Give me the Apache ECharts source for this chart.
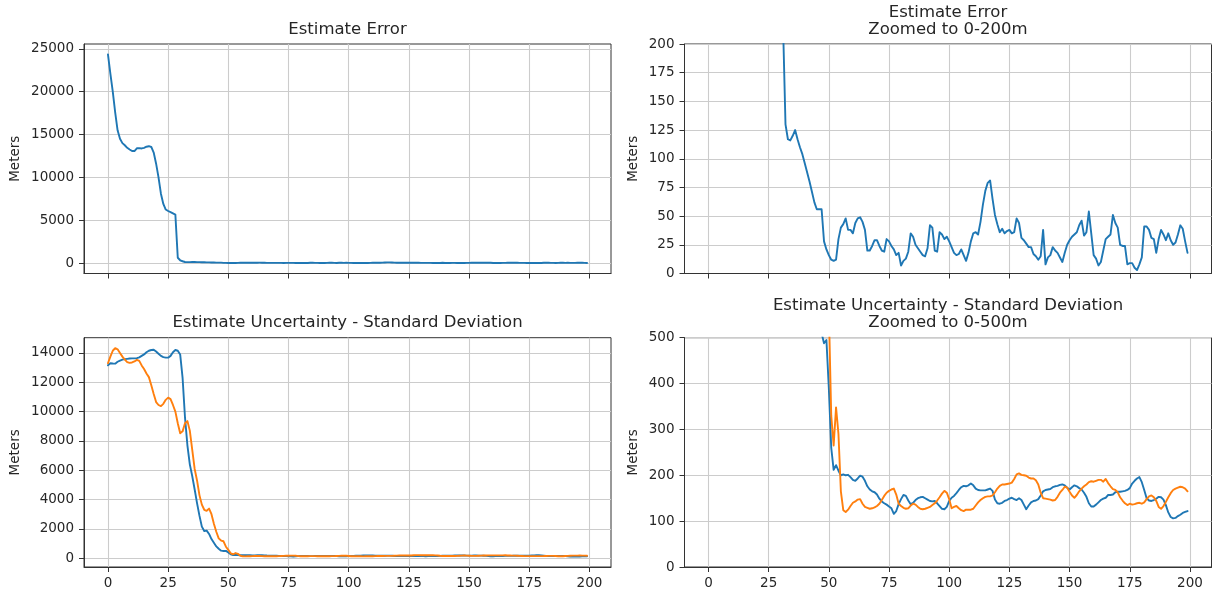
<!DOCTYPE html>
<html>
<head>
<meta charset="utf-8">
<script src="https://cdn.jsdelivr.net/npm/echarts@6/dist/echarts.min.js"></script>
<style>
  html, body { margin: 0; padding: 0; background: #ffffff; }
  #chart { width: 1215px; height: 595px; }
</style>
</head>
<body>
<div id="chart"></div>
<script>
// Position estimate error per step (meters)
const errMeters = [
  24350, 22100, 20000, 17600, 15500, 14500, 14000, 13750, 13450, 13250,
  13080, 13080, 13400, 13420, 13380, 13450, 13580, 13640, 13550, 12900,
  11600, 10000, 8100, 6900, 6250, 6080, 5950, 5800, 5650, 620,
  330, 215, 130, 117, 116, 120, 125, 117, 110, 104,
  96, 88, 80, 71, 62, 56, 56, 56, 28, 21,
  16, 12, 11, 12, 30, 40, 43, 48, 38, 38,
  35, 44, 48, 49, 45, 38, 20, 20, 24, 29,
  29, 24, 20, 19, 30, 28, 24, 21, 16, 18,
  7, 11, 13, 19, 35, 32, 25, 22, 19, 16,
  15, 22, 42, 40, 20, 19, 36, 34, 30, 32,
  28, 23, 18, 16, 17, 21, 16, 11, 18, 28,
  35, 36, 34, 45, 60, 72, 79, 81, 65, 51,
  43, 36, 39, 35, 37, 38, 35, 36, 48, 44,
  31, 29, 26, 23, 23, 17, 15, 12, 15, 38,
  8, 14, 16, 23, 20, 18, 14, 10, 18, 25,
  29, 32, 34, 36, 42, 46, 33, 36, 54, 35,
  16, 13, 7, 10, 20, 30, 32, 34, 51, 44,
  40, 25, 24, 24, 8, 9, 9, 5, 3, 8,
  14, 41, 41, 38, 31, 30, 18, 30, 38, 34,
  29, 35, 29, 25, 27, 34, 42, 39, 28, 18
];

// Standard deviation of the estimate, first component (meters)
const stdDevA = [
  13160, 13300, 13280, 13270, 13400, 13480, 13540, 13580, 13600, 13620,
  13630, 13630, 13650, 13700, 13800, 13900, 14050, 14150, 14200, 14220,
  14100, 13950, 13800, 13720, 13680, 13680, 13800, 14050, 14200, 14150,
  13900, 12300, 9600, 7700, 6400, 5600, 4700, 3750, 2900, 2150,
  1850, 1880, 1650, 1300, 1050, 800, 640, 510, 488, 495,
  390, 260, 212, 222, 210, 200, 202, 200, 201, 196,
  190, 188, 193, 199, 197, 188, 176, 169, 165, 163,
  158, 149, 143, 139, 136, 132, 128, 116, 122, 137,
  148, 157, 155, 145, 137, 140, 146, 150, 152, 153,
  150, 147, 144, 143, 144, 139, 133, 127, 126, 131,
  144, 151, 155, 161, 168, 174, 177, 176, 178, 182,
  178, 171, 168, 167, 167, 167, 169, 171, 166, 147,
  139, 138, 140, 144, 146, 149, 151, 148, 146, 150,
  146, 136, 126, 134, 141, 144, 145, 148, 156, 165,
  168, 169, 170, 174, 176, 177, 179, 180, 178, 173,
  169, 174, 178, 176, 172, 169, 162, 153, 139, 132,
  132, 136, 141, 146, 149, 151, 157, 157, 158, 163,
  164, 164, 165, 166, 168, 172, 182, 188, 193, 196,
  185, 168, 150, 145, 144, 146, 149, 153, 152, 147,
  135, 119, 109, 106, 107, 111, 114, 118, 120, 122
];

// Standard deviation of the estimate, second component (meters)
const stdDevB = [
  13300, 13750, 14150, 14330, 14250, 14000, 13750, 13550, 13380, 13320,
  13350, 13420, 13530, 13460, 13150, 12900, 12600, 12350, 11800, 11200,
  10650, 10450, 10370, 10530, 10800, 10950, 10850, 10450, 10000, 9200,
  8520, 8650, 9200, 9350, 8700, 7400, 6100, 5300, 4300, 3650,
  3300, 3230, 3380, 3000, 2350, 1800, 1350, 1200, 1150, 780,
  560, 330, 265, 348, 290, 165, 124, 120, 125, 133,
  140, 143, 147, 148, 138, 131, 129, 127, 128, 130,
  133, 138, 146, 155, 162, 166, 169, 171, 158, 138,
  133, 129, 127, 128, 134, 138, 136, 131, 127, 126,
  127, 129, 131, 135, 139, 145, 152, 160, 166, 162,
  148, 128, 131, 133, 128, 124, 122, 125, 125, 125,
  127, 134, 141, 146, 150, 153, 154, 154, 156, 163,
  171, 177, 180, 180, 181, 182, 184, 192, 202, 204,
  201, 200, 199, 195, 193, 193, 189, 180, 162, 150,
  149, 148, 147, 145, 146, 153, 162, 168, 175, 173,
  164, 156, 151, 157, 165, 171, 176, 180, 185, 187,
  186, 188, 190, 190, 186, 192, 183, 176, 170, 168,
  163, 152, 145, 139, 135, 138, 136, 137, 139, 140,
  138, 141, 148, 154, 156, 152, 144, 131, 127, 133,
  142, 152, 161, 168, 171, 173, 175, 174, 171, 165
];

// Tick values
const stepTicks = [0, 25, 50, 75, 100, 125, 150, 175, 200];
const errTicks = [0, 5000, 10000, 15000, 20000, 25000];
const errZoomTicks = [0, 25, 50, 75, 100, 125, 150, 175, 200];
const stdTicks = [0, 2000, 4000, 6000, 8000, 10000, 12000, 14000];
const stdZoomTicks = [0, 100, 200, 300, 400, 500];

const BLUE = '#1f77b4';
const ORANGE = '#ff7f0e';
const INK = '#262626';
const FONT = 'DejaVu Sans';

function toPoints(arr) { return arr.map((v, i) => [i, v]); }

// Auto limits with 5% padding on each side
function padded(lo, hi) {
  const r = hi - lo;
  return [lo - 0.05 * r, hi + 0.05 * r];
}

const n = errMeters.length;
const xLim = padded(0, n - 1);
const errLim = padded(Math.min(...errMeters), Math.max(...errMeters));
const stdAll = stdDevA.concat(stdDevB);
const stdLim = padded(Math.min(...stdAll), Math.max(...stdAll));

const grids = [
  { left: 84, top: 44, width: 527, height: 229.5 },
  { left: 684.5, top: 44, width: 527, height: 229.5 },
  { left: 84, top: 337.7, width: 527, height: 229.3 },
  { left: 684.5, top: 337.7, width: 527, height: 229.3 }
].map(g => Object.assign(g, {
  show: true,
  borderColor: '#333',
  borderWidth: 1,
  backgroundColor: 'transparent',
  containLabel: false,
  outerBoundsMode: 'none'
}));

function xAxisFor(idx, showLabels) {
  return {
    type: 'value',
    gridIndex: idx,
    min: xLim[0],
    max: xLim[1],
    axisLine: { show: true, onZero: false, lineStyle: { color: '#333', width: 1 } },
    axisTick: { show: true, customValues: stepTicks, length: 5, lineStyle: { color: '#333', width: 1 } },
    axisLabel: {
      show: showLabels, customValues: stepTicks, margin: 9,
      fontSize: 13.5, fontFamily: FONT, color: INK,
      formatter: v => String(v)
    },
    splitLine: { show: true, lineStyle: { color: '#cccccc', width: 1.1 } }
  };
}

function yAxisFor(idx, lim, ticks, gap) {
  return {
    type: 'value',
    gridIndex: idx,
    min: lim[0],
    max: lim[1],
    name: 'Meters',
    nameLocation: 'middle',
    nameRotate: 90,
    nameGap: gap,
    nameTextStyle: { fontSize: 13.5, fontFamily: FONT, color: INK },
    axisLine: { show: true, onZero: false, lineStyle: { color: '#333', width: 1 } },
    axisTick: { show: true, customValues: ticks, length: 5, lineStyle: { color: '#333', width: 1 } },
    axisLabel: {
      show: true, customValues: ticks, margin: 10,
      fontSize: 13.5, fontFamily: FONT, color: INK,
      formatter: v => String(v)
    },
    splitLine: { show: true, lineStyle: { color: '#cccccc', width: 1.1 } }
  };
}

function lineSeries(data, color, ix) {
  return {
    type: 'line',
    data: toPoints(data),
    xAxisIndex: ix,
    yAxisIndex: ix,
    symbol: 'none',
    showSymbol: false,
    clip: true,
    lineStyle: { color: color, width: 1.9, join: 'round', cap: 'round' },
    itemStyle: { color: color },
    emphasis: { disabled: true },
    animation: false
  };
}

function titleText(text, cx, cy) {
  return {
    type: 'text',
    x: cx,
    y: cy,
    style: {
      text: text,
      align: 'center',
      verticalAlign: 'middle',
      font: '16.5px "DejaVu Sans"',
      fill: INK,
      lineHeight: 16.8
    }
  };
}

const chart = echarts.init(document.getElementById('chart'), null, { renderer: 'canvas' });

chart.setOption({
  animation: false,
  backgroundColor: '#ffffff',
  grid: grids,
  xAxis: [
    xAxisFor(0, false),
    xAxisFor(1, false),
    xAxisFor(2, true),
    xAxisFor(3, true)
  ],
  yAxis: [
    yAxisFor(0, errLim, errTicks, 62),
    yAxisFor(1, [0, 200], errZoomTicks, 44),
    yAxisFor(2, stdLim, stdTicks, 62),
    yAxisFor(3, [0, 500], stdZoomTicks, 44)
  ],
  series: [
    lineSeries(errMeters, BLUE, 0),
    lineSeries(errMeters, BLUE, 1),
    lineSeries(stdDevA, BLUE, 2),
    lineSeries(stdDevB, ORANGE, 2),
    lineSeries(stdDevA, BLUE, 3),
    lineSeries(stdDevB, ORANGE, 3)
  ],
  graphic: [
    titleText('Estimate Error', 347.5, 29.3),
    titleText('Estimate Error\nZoomed to 0-200m', 948, 21),
    titleText('Estimate Uncertainty - Standard Deviation', 347.5, 322.7),
    titleText('Estimate Uncertainty - Standard Deviation\nZoomed to 0-500m', 948, 314)
  ]
});
</script>
</body>
</html>
